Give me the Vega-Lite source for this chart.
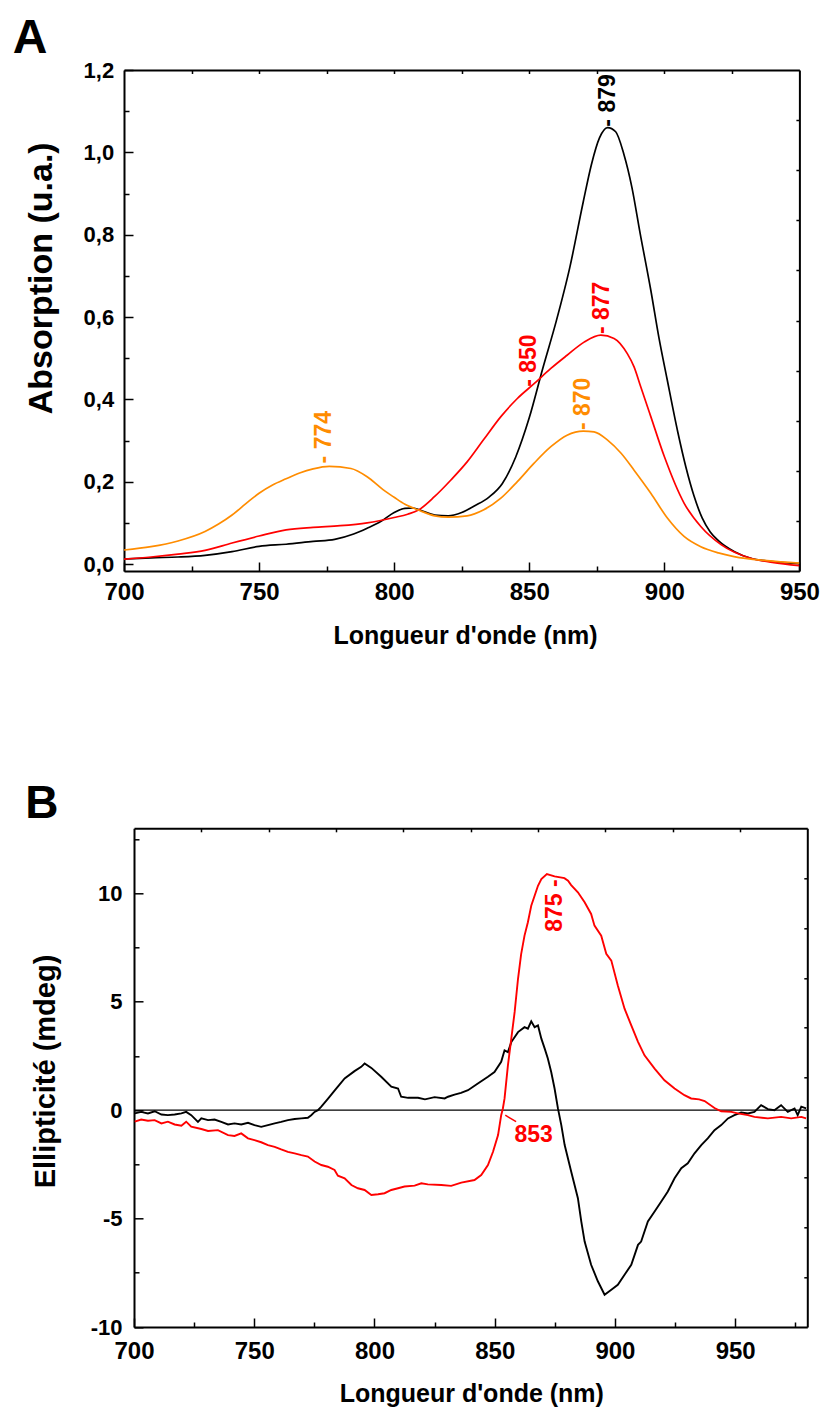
{
  "$schema": "https://vega.github.io/schema/vega-lite/v6.json",
  "background": "white",
  "padding": {"left": 12, "top": 14, "right": 2, "bottom": 0},
  "config": {
    "view": {"stroke": null},
    "axis": {"domainColor": "black", "domainWidth": 2, "tickColor": "black", "tickWidth": 1.5, "labelFont": "Liberation Sans", "labelFontWeight": "bold", "labelColor": "black", "titleFont": "Liberation Sans", "titleFontWeight": "bold", "titleColor": "black", "grid": false, "labelFlush": false, "labelOverlap": false}
  },
  "datasets": {
    "absA": [
      {"s":"k","nm":700,"a":0.012},{"s":"k","nm":710,"a":0.015},{"s":"k","nm":720,"a":0.017},{"s":"k","nm":730,"a":0.021},{"s":"k","nm":740,"a":0.030},{"s":"k","nm":750,"a":0.043},{"s":"k","nm":760,"a":0.048},{"s":"k","nm":770,"a":0.055},{"s":"k","nm":778,"a":0.060},{"s":"k","nm":785,"a":0.073},{"s":"k","nm":790,"a":0.087},{"s":"k","nm":795,"a":0.103},{"s":"k","nm":800,"a":0.125},{"s":"k","nm":804,"a":0.135},{"s":"k","nm":807,"a":0.136},{"s":"k","nm":810,"a":0.130},{"s":"k","nm":815,"a":0.119},{"s":"k","nm":820,"a":0.117},{"s":"k","nm":825,"a":0.125},{"s":"k","nm":830,"a":0.142},{"s":"k","nm":835,"a":0.162},{"s":"k","nm":840,"a":0.195},{"s":"k","nm":845,"a":0.260},{"s":"k","nm":850,"a":0.355},{"s":"k","nm":855,"a":0.475},{"s":"k","nm":860,"a":0.590},{"s":"k","nm":865,"a":0.720},{"s":"k","nm":870,"a":0.880},{"s":"k","nm":873,"a":0.970},{"s":"k","nm":876,"a":1.035},{"s":"k","nm":879,"a":1.060},{"s":"k","nm":882,"a":1.050},{"s":"k","nm":885,"a":0.996},{"s":"k","nm":888,"a":0.915},{"s":"k","nm":891,"a":0.805},{"s":"k","nm":895,"a":0.665},{"s":"k","nm":898,"a":0.550},{"s":"k","nm":901,"a":0.450},{"s":"k","nm":905,"a":0.320},{"s":"k","nm":908,"a":0.235},{"s":"k","nm":911,"a":0.165},{"s":"k","nm":914,"a":0.112},{"s":"k","nm":917,"a":0.078},{"s":"k","nm":920,"a":0.057},{"s":"k","nm":926,"a":0.030},{"s":"k","nm":932,"a":0.014},{"s":"k","nm":940,"a":0.006},{"s":"k","nm":950,"a":0.001},
      {"s":"r","nm":700,"a":0.012},{"s":"r","nm":710,"a":0.017},{"s":"r","nm":720,"a":0.024},{"s":"r","nm":730,"a":0.033},{"s":"r","nm":740,"a":0.051},{"s":"r","nm":750,"a":0.068},{"s":"r","nm":760,"a":0.083},{"s":"r","nm":770,"a":0.089},{"s":"r","nm":780,"a":0.093},{"s":"r","nm":790,"a":0.100},{"s":"r","nm":800,"a":0.113},{"s":"r","nm":805,"a":0.121},{"s":"r","nm":809,"a":0.131},{"s":"r","nm":815,"a":0.164},{"s":"r","nm":821,"a":0.204},{"s":"r","nm":827,"a":0.248},{"s":"r","nm":833,"a":0.301},{"s":"r","nm":839.5,"a":0.358},{"s":"r","nm":845.6,"a":0.402},{"s":"r","nm":851.8,"a":0.438},{"s":"r","nm":858,"a":0.475},{"s":"r","nm":864,"a":0.507},{"s":"r","nm":870.3,"a":0.539},{"s":"r","nm":876.5,"a":0.556},{"s":"r","nm":881.4,"a":0.548},{"s":"r","nm":886.3,"a":0.511},{"s":"r","nm":888.8,"a":0.479},{"s":"r","nm":891.3,"a":0.430},{"s":"r","nm":895,"a":0.358},{"s":"r","nm":900,"a":0.261},{"s":"r","nm":907.3,"a":0.148},{"s":"r","nm":913.5,"a":0.091},{"s":"r","nm":921,"a":0.047},{"s":"r","nm":932,"a":0.014},{"s":"r","nm":940,"a":0.004},{"s":"r","nm":950,"a":-0.004},
      {"s":"o","nm":700,"a":0.034},{"s":"o","nm":710,"a":0.042},{"s":"o","nm":720,"a":0.056},{"s":"o","nm":730,"a":0.079},{"s":"o","nm":735,"a":0.097},{"s":"o","nm":740,"a":0.119},{"s":"o","nm":745,"a":0.146},{"s":"o","nm":750,"a":0.172},{"s":"o","nm":755,"a":0.192},{"s":"o","nm":760,"a":0.207},{"s":"o","nm":765,"a":0.221},{"s":"o","nm":770,"a":0.231},{"s":"o","nm":776,"a":0.237},{"s":"o","nm":784,"a":0.232},{"s":"o","nm":790,"a":0.212},{"s":"o","nm":796,"a":0.180},{"s":"o","nm":800,"a":0.162},{"s":"o","nm":804,"a":0.145},{"s":"o","nm":809,"a":0.131},{"s":"o","nm":815,"a":0.117},{"s":"o","nm":820,"a":0.114},{"s":"o","nm":827,"a":0.117},{"s":"o","nm":833,"a":0.131},{"s":"o","nm":839.5,"a":0.160},{"s":"o","nm":845.6,"a":0.200},{"s":"o","nm":851.8,"a":0.245},{"s":"o","nm":858,"a":0.285},{"s":"o","nm":864,"a":0.313},{"s":"o","nm":870,"a":0.323},{"s":"o","nm":874,"a":0.321},{"s":"o","nm":879,"a":0.301},{"s":"o","nm":884,"a":0.269},{"s":"o","nm":888.8,"a":0.228},{"s":"o","nm":895,"a":0.172},{"s":"o","nm":901.2,"a":0.111},{"s":"o","nm":907.3,"a":0.067},{"s":"o","nm":913.5,"a":0.042},{"s":"o","nm":920,"a":0.027},{"s":"o","nm":925.8,"a":0.018},{"s":"o","nm":938,"a":0.008},{"s":"o","nm":950,"a":0.002}
    ],
    "labA": [
      {"s":"k","nm":879,"a":1.06,"t":"- 879"},
      {"s":"r","nm":877,"a":0.556,"t":"- 877"},
      {"s":"r","nm":850,"a":0.428,"t":"- 850"},
      {"s":"o","nm":870,"a":0.323,"t":"- 870"},
      {"s":"o","nm":774,"a":0.242,"t":"- 774"}
    ],
    "cdB": [
      {"s":"k","nm":700.3,"e":-0.15},{"s":"k","nm":703,"e":-0.08},{"s":"k","nm":705.8,"e":-0.15},{"s":"k","nm":708.6,"e":-0.05},{"s":"k","nm":711.4,"e":-0.2},{"s":"k","nm":714.1,"e":-0.23},{"s":"k","nm":716.9,"e":-0.2},{"s":"k","nm":719.7,"e":-0.15},{"s":"k","nm":721.7,"e":-0.08},{"s":"k","nm":723.8,"e":-0.23},{"s":"k","nm":726.6,"e":-0.54},{"s":"k","nm":728,"e":-0.38},{"s":"k","nm":730.8,"e":-0.46},{"s":"k","nm":733.5,"e":-0.43},{"s":"k","nm":736.3,"e":-0.54},{"s":"k","nm":739.1,"e":-0.66},{"s":"k","nm":741.8,"e":-0.61},{"s":"k","nm":744.6,"e":-0.66},{"s":"k","nm":747.4,"e":-0.58},{"s":"k","nm":750.1,"e":-0.69},{"s":"k","nm":752.9,"e":-0.77},{"s":"k","nm":755.7,"e":-0.69},{"s":"k","nm":758.5,"e":-0.61},{"s":"k","nm":761.2,"e":-0.54},{"s":"k","nm":764,"e":-0.46},{"s":"k","nm":766.8,"e":-0.41},{"s":"k","nm":769.6,"e":-0.38},{"s":"k","nm":772.3,"e":-0.35},{"s":"k","nm":773.7,"e":-0.23},{"s":"k","nm":775.1,"e":-0.08},{"s":"k","nm":776.5,"e":0.0},{"s":"k","nm":777.9,"e":0.16},{"s":"k","nm":780.7,"e":0.53},{"s":"k","nm":783.4,"e":0.9},{"s":"k","nm":787.6,"e":1.46},{"s":"k","nm":791.7,"e":1.8},{"s":"k","nm":794.5,"e":2.0},{"s":"k","nm":795.9,"e":2.15},{"s":"k","nm":798.7,"e":1.95},{"s":"k","nm":802.8,"e":1.54},{"s":"k","nm":807,"e":1.08},{"s":"k","nm":809.8,"e":1.0},{"s":"k","nm":811.1,"e":0.62},{"s":"k","nm":814,"e":0.57},{"s":"k","nm":818.1,"e":0.57},{"s":"k","nm":821,"e":0.5},{"s":"k","nm":825,"e":0.6},{"s":"k","nm":829.2,"e":0.54},{"s":"k","nm":830.6,"e":0.62},{"s":"k","nm":833.3,"e":0.72},{"s":"k","nm":836,"e":0.8},{"s":"k","nm":838.9,"e":0.92},{"s":"k","nm":843,"e":1.23},{"s":"k","nm":847.2,"e":1.54},{"s":"k","nm":849.9,"e":1.76},{"s":"k","nm":852.7,"e":2.23},{"s":"k","nm":854.1,"e":2.76},{"s":"k","nm":855.5,"e":2.68},{"s":"k","nm":856.9,"e":3.14},{"s":"k","nm":859.7,"e":3.6},{"s":"k","nm":862.4,"e":3.83},{"s":"k","nm":863.8,"e":3.76},{"s":"k","nm":865.2,"e":4.1},{"s":"k","nm":866.6,"e":3.83},{"s":"k","nm":868,"e":3.91},{"s":"k","nm":869.4,"e":3.3},{"s":"k","nm":870.8,"e":2.84},{"s":"k","nm":872.1,"e":2.38},{"s":"k","nm":873.5,"e":1.76},{"s":"k","nm":874.9,"e":1.0},{"s":"k","nm":876.3,"e":0.08},{"s":"k","nm":877.7,"e":-0.69},{"s":"k","nm":879.1,"e":-1.61},{"s":"k","nm":881.8,"e":-2.83},{"s":"k","nm":884.6,"e":-4.06},{"s":"k","nm":886,"e":-5.13},{"s":"k","nm":887.4,"e":-6.06},{"s":"k","nm":890.1,"e":-7.13},{"s":"k","nm":892.9,"e":-7.89},{"s":"k","nm":895.7,"e":-8.51},{"s":"k","nm":898.5,"e":-8.28},{"s":"k","nm":901.2,"e":-8.05},{"s":"k","nm":904,"e":-7.59},{"s":"k","nm":906.8,"e":-7.13},{"s":"k","nm":909.6,"e":-6.21},{"s":"k","nm":910.9,"e":-6.06},{"s":"k","nm":913.7,"e":-5.13},{"s":"k","nm":916.5,"e":-4.67},{"s":"k","nm":919.2,"e":-4.22},{"s":"k","nm":922,"e":-3.75},{"s":"k","nm":924.8,"e":-3.14},{"s":"k","nm":927.6,"e":-2.68},{"s":"k","nm":930.3,"e":-2.45},{"s":"k","nm":933.1,"e":-1.99},{"s":"k","nm":935.9,"e":-1.61},{"s":"k","nm":938.6,"e":-1.3},{"s":"k","nm":941.4,"e":-0.92},{"s":"k","nm":944.2,"e":-0.69},{"s":"k","nm":947,"e":-0.38},{"s":"k","nm":949.7,"e":-0.23},{"s":"k","nm":952.5,"e":-0.11},{"s":"k","nm":955.3,"e":-0.15},{"s":"k","nm":958,"e":-0.08},{"s":"k","nm":960.8,"e":0.23},{"s":"k","nm":963.6,"e":0.05},{"s":"k","nm":966.3,"e":0.0},{"s":"k","nm":969.1,"e":0.23},{"s":"k","nm":971.9,"e":-0.08},{"s":"k","nm":974.7,"e":0.08},{"s":"k","nm":976,"e":-0.23},{"s":"k","nm":977.5,"e":0.16},{"s":"k","nm":979.5,"e":0.08},
      {"s":"r","nm":700.3,"e":-0.53},{"s":"r","nm":703,"e":-0.43},{"s":"r","nm":705.8,"e":-0.49},{"s":"r","nm":708.6,"e":-0.46},{"s":"r","nm":711.4,"e":-0.61},{"s":"r","nm":714.1,"e":-0.53},{"s":"r","nm":716.9,"e":-0.66},{"s":"r","nm":719.7,"e":-0.72},{"s":"r","nm":721.7,"e":-0.53},{"s":"r","nm":723.8,"e":-0.76},{"s":"r","nm":728,"e":-0.87},{"s":"r","nm":730.8,"e":-0.96},{"s":"r","nm":734.9,"e":-0.92},{"s":"r","nm":739.1,"e":-1.15},{"s":"r","nm":741.8,"e":-1.19},{"s":"r","nm":744.6,"e":-1.07},{"s":"r","nm":747.4,"e":-1.3},{"s":"r","nm":750.1,"e":-1.38},{"s":"r","nm":752.9,"e":-1.48},{"s":"r","nm":755.7,"e":-1.61},{"s":"r","nm":758.5,"e":-1.69},{"s":"r","nm":761.2,"e":-1.81},{"s":"r","nm":764,"e":-1.92},{"s":"r","nm":766.8,"e":-1.99},{"s":"r","nm":769.6,"e":-2.07},{"s":"r","nm":772.3,"e":-2.14},{"s":"r","nm":775.1,"e":-2.37},{"s":"r","nm":777.9,"e":-2.53},{"s":"r","nm":780.6,"e":-2.61},{"s":"r","nm":783.4,"e":-2.76},{"s":"r","nm":784.8,"e":-3.02},{"s":"r","nm":787.6,"e":-3.14},{"s":"r","nm":790.4,"e":-3.45},{"s":"r","nm":793.1,"e":-3.6},{"s":"r","nm":795.9,"e":-3.68},{"s":"r","nm":798.7,"e":-3.91},{"s":"r","nm":801.5,"e":-3.88},{"s":"r","nm":804.2,"e":-3.83},{"s":"r","nm":807,"e":-3.68},{"s":"r","nm":809.8,"e":-3.6},{"s":"r","nm":812.5,"e":-3.52},{"s":"r","nm":816.7,"e":-3.48},{"s":"r","nm":819.5,"e":-3.37},{"s":"r","nm":822.2,"e":-3.42},{"s":"r","nm":827.8,"e":-3.45},{"s":"r","nm":831.9,"e":-3.49},{"s":"r","nm":836.1,"e":-3.34},{"s":"r","nm":841.6,"e":-3.22},{"s":"r","nm":844.4,"e":-2.99},{"s":"r","nm":847.2,"e":-2.53},{"s":"r","nm":849.3,"e":-1.92},{"s":"r","nm":851.4,"e":-1.15},{"s":"r","nm":852.7,"e":-0.23},{"s":"r","nm":853.4,"e":0.08},{"s":"r","nm":854.1,"e":0.54},{"s":"r","nm":855.5,"e":2.07},{"s":"r","nm":856.9,"e":3.3},{"s":"r","nm":858.3,"e":4.53},{"s":"r","nm":859.7,"e":6.06},{"s":"r","nm":861,"e":7.2},{"s":"r","nm":862.4,"e":8.05},{"s":"r","nm":863.8,"e":8.67},{"s":"r","nm":865.2,"e":9.43},{"s":"r","nm":866.6,"e":9.89},{"s":"r","nm":868,"e":10.35},{"s":"r","nm":869.4,"e":10.66},{"s":"r","nm":871.7,"e":10.89},{"s":"r","nm":874.9,"e":10.78},{"s":"r","nm":879,"e":10.7},{"s":"r","nm":880.5,"e":10.58},{"s":"r","nm":881.8,"e":10.38},{"s":"r","nm":884.6,"e":10.05},{"s":"r","nm":887.4,"e":9.59},{"s":"r","nm":890.1,"e":9.05},{"s":"r","nm":891.5,"e":8.51},{"s":"r","nm":894.3,"e":8.05},{"s":"r","nm":896.4,"e":7.21},{"s":"r","nm":898.5,"e":6.9},{"s":"r","nm":901.2,"e":5.75},{"s":"r","nm":904,"e":4.68},{"s":"r","nm":906.8,"e":3.91},{"s":"r","nm":909.6,"e":3.15},{"s":"r","nm":912.3,"e":2.53},{"s":"r","nm":916.5,"e":1.92},{"s":"r","nm":920.6,"e":1.38},{"s":"r","nm":924.8,"e":1.0},{"s":"r","nm":928.9,"e":0.69},{"s":"r","nm":931.7,"e":0.54},{"s":"r","nm":935,"e":0.5},{"s":"r","nm":937.3,"e":0.42},{"s":"r","nm":941.4,"e":0.1},{"s":"r","nm":944.2,"e":-0.05},{"s":"r","nm":948.4,"e":-0.08},{"s":"r","nm":951.1,"e":-0.15},{"s":"r","nm":955.3,"e":-0.23},{"s":"r","nm":958,"e":-0.31},{"s":"r","nm":963.6,"e":-0.38},{"s":"r","nm":969.1,"e":-0.31},{"s":"r","nm":973.3,"e":-0.38},{"s":"r","nm":977.5,"e":-0.31},{"s":"r","nm":979.5,"e":-0.38}
    ],
    "labB": [
      {"s":"r","nm":875,"e":10.78,"t":"875 -"}
    ],
    "lab853": [
      {"s":"r","nm":858.2,"e":-1.45,"t":"853"}
    ],
    "leadB": [
      {"nm":854.4,"e":-0.23,"nm2":858.9,"e2":-0.53}
    ],
    "frame": [
      {"u":0,"w":0}
    ]
  },
  "spacing": 131.3,
  "vconcat": [
    {
      "width": 675.4,
      "height": 501,
      "title": {"text": "A", "anchor": "start", "frame": "group", "dx": -111.3, "offset": -41.6, "fontSize": 48, "font": "Liberation Sans", "fontWeight": "bold", "baseline": "alphabetic", "color": "black"},
      "resolve": {"scale": {"x": "independent", "y": "independent"}},
      "layer": [
        {
          "layer": [
            {
              "data": {"name": "absA"},
              "mark": {"type": "line", "strokeWidth": 1.7, "interpolate": "monotone", "clip": true},
              "encoding": {
                "x": {"field": "nm", "type": "quantitative", "scale": {"domain": [700, 950], "nice": false, "zero": false},
                  "axis": {"orient": "bottom", "values": [700,725,750,775,800,825,850,875,900,925,950], "labelExpr": "datum.value % 50 == 0 ? datum.label : ''", "tickSize": {"condition": {"test": "datum.value % 50 != 0", "value": -5}, "value": -9}, "labelPadding": 18, "labelFontSize": 24, "title": "Longueur d'onde (nm)", "titleFontSize": 25, "titleX": 341, "titleY": 72.3, "titleAlign": "center", "titleBaseline": "alphabetic"}},
                "y": {"field": "a", "type": "quantitative", "scale": {"domain": [-0.017, 1.2], "nice": false, "zero": false},
                  "axis": {"orient": "left", "values": [0,0.1,0.2,0.3,0.4,0.5,0.6,0.7,0.8,0.9,1.0,1.1,1.2], "labelExpr": "round(datum.value*10) % 2 == 0 ? replace(format(datum.value, '.1f'), '.', ',') : ''", "tickSize": {"condition": {"test": "round(datum.value*10) % 2 != 0", "value": -5}, "value": -9}, "labelPadding": 19.3, "labelFontSize": 22, "title": "Absorption (u.a.)", "titleFontSize": 34, "titleX": -72.5, "titleY": 207.8, "titleAngle": 270, "titleAlign": "center", "titleBaseline": "alphabetic"}},
                "color": {"field": "s", "type": "nominal", "scale": {"domain": ["k","r","o"], "range": ["#000000","#ff0000","#ff8c00"]}, "legend": null}
              }
            },
            {
              "data": {"name": "labA"},
              "mark": {"type": "text", "angle": 270, "align": "left", "baseline": "middle", "fontSize": 23, "font": "Liberation Sans", "fontWeight": "bold", "dx": 1},
              "encoding": {
                "x": {"field": "nm", "type": "quantitative"},
                "y": {"field": "a", "type": "quantitative"},
                "text": {"field": "t"},
                "color": {"field": "s", "type": "nominal", "legend": null}
              }
            }
          ]
        },
        {
          "data": {"name": "frame"},
          "mark": {"type": "point", "opacity": 0},
          "encoding": {
            "x": {"field": "u", "type": "quantitative", "scale": {"domain": [0, 10], "nice": false}, "axis": {"orient": "top", "values": [1,2,3,4,5,6,7,8,9], "labels": false, "title": null, "tickSize": -3.5}},
            "y": {"field": "w", "type": "quantitative", "scale": {"domain": [0, 10], "nice": false}, "axis": {"orient": "right", "values": [1,2,3,4,5,6,7,8,9], "labels": false, "title": null, "tickSize": -3.5}}
          }
        }
      ]
    },
    {
      "bounds": "flush",
      "spacing": 0,
      "hconcat": [
        {
          "width": 9.4,
          "height": 10,
          "data": {"name": "frame"},
          "mark": {"type": "point", "opacity": 0}
        },
        {
          "width": 673.3,
          "height": 498.7,
          "title": {"text": "B", "anchor": "start", "frame": "group", "dx": -108.7, "offset": -36.7, "fontSize": 46, "font": "Liberation Sans", "fontWeight": "bold", "baseline": "alphabetic", "color": "black"},
          "resolve": {"scale": {"x": "independent", "y": "independent"}},
          "layer": [
            {
              "layer": [
                {
                  "data": {"name": "frame"},
                  "mark": {"type": "rule", "color": "black", "strokeWidth": 1.2},
                  "encoding": {"y": {"datum": 0, "type": "quantitative"}}
                },
                {
                  "data": {"name": "cdB"},
                  "mark": {"type": "line", "strokeWidth": 1.9, "clip": true},
                  "encoding": {
                    "x": {"field": "nm", "type": "quantitative", "scale": {"domain": [700, 980], "nice": false, "zero": false},
                      "axis": {"orient": "bottom", "values": [700,725,750,775,800,825,850,875,900,925,950,975], "labelExpr": "datum.value % 50 == 0 ? datum.label : ''", "tickSize": {"condition": {"test": "datum.value % 50 != 0", "value": -5}, "value": -9}, "labelPadding": 21.5, "labelFontSize": 24, "title": "Longueur d'onde (nm)", "titleFontSize": 25, "titleX": 337.3, "titleY": 74.3, "titleAlign": "center", "titleBaseline": "alphabetic"}},
                    "y": {"field": "e", "type": "quantitative", "scale": {"domain": [-10, 13], "nice": false, "zero": false},
                      "axis": {"orient": "left", "values": [-10,-7.5,-5,-2.5,0,2.5,5,7.5,10,12.5], "labelExpr": "datum.value % 5 == 0 ? '' + datum.value : ''", "tickSize": {"condition": {"test": "datum.value % 5 != 0", "value": -5}, "value": -9}, "labelPadding": 21, "labelFontSize": 22, "title": "Ellipticité (mdeg)", "titleFontSize": 29, "titleX": -79.2, "titleY": 242.7, "titleAngle": 270, "titleAlign": "center", "titleBaseline": "alphabetic"}},
                    "color": {"field": "s", "type": "nominal", "scale": {"domain": ["k","r"], "range": ["#000000","#ff0000"]}, "legend": null}
                  }
                },
                {
                  "data": {"name": "labB"},
                  "mark": {"type": "text", "angle": 270, "align": "right", "baseline": "middle", "fontSize": 23, "font": "Liberation Sans", "fontWeight": "bold", "dx": -3},
                  "encoding": {
                    "x": {"field": "nm", "type": "quantitative"},
                    "y": {"field": "e", "type": "quantitative"},
                    "text": {"field": "t"},
                    "color": {"field": "s", "type": "nominal", "legend": null}
                  }
                },
                {
                  "data": {"name": "lab853"},
                  "mark": {"type": "text", "align": "left", "baseline": "alphabetic", "fontSize": 23, "font": "Liberation Sans", "fontWeight": "bold"},
                  "encoding": {
                    "x": {"field": "nm", "type": "quantitative"},
                    "y": {"field": "e", "type": "quantitative"},
                    "text": {"field": "t"},
                    "color": {"field": "s", "type": "nominal", "legend": null}
                  }
                },
                {
                  "data": {"name": "leadB"},
                  "mark": {"type": "rule", "color": "#ff0000", "strokeWidth": 1.5},
                  "encoding": {
                    "x": {"field": "nm", "type": "quantitative"},
                    "x2": {"field": "nm2"},
                    "y": {"field": "e", "type": "quantitative"},
                    "y2": {"field": "e2"}
                  }
                }
              ]
            },
            {
              "data": {"name": "frame"},
              "mark": {"type": "point", "opacity": 0},
              "encoding": {
                "x": {"field": "u", "type": "quantitative", "scale": {"domain": [0, 10], "nice": false}, "axis": {"orient": "top", "values": [1,2,3,4,5,6,7,8,9], "labels": false, "title": null, "tickSize": -3.5}},
                "y": {"field": "w", "type": "quantitative", "scale": {"domain": [0, 10], "nice": false}, "axis": {"orient": "right", "values": [1,2,3,4,5,6,7,8,9], "labels": false, "title": null, "tickSize": -3.5}}
              }
            }
          ]
        }
      ]
    }
  ]
}
